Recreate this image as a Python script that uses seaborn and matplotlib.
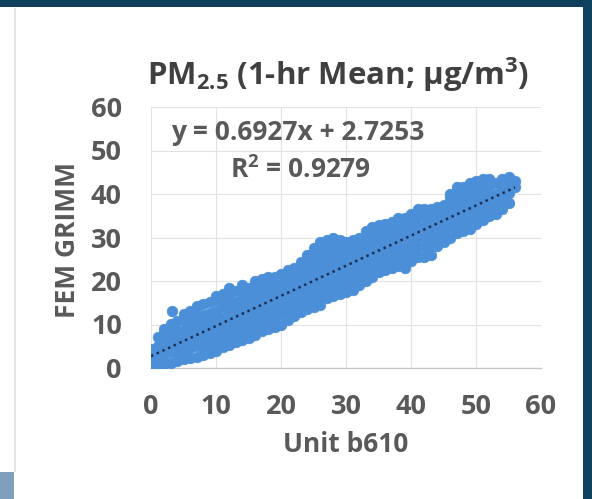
import matplotlib
matplotlib.use("Agg")
import matplotlib.pyplot as plt
import seaborn as sns
import pandas as pd
import numpy as np
from matplotlib.patches import Rectangle

# ---- data (column x value -> y values of points) ----
x_cols = list(range(0, 57))
y_cols = [
    [0.3, 2.2, 4.4],
    [0.5, 2.8, 5.0, 7.2],
    [1.0, 3.1, 5.4, 7.6, 9.0],
    [1.2, 3.6, 5.8, 8.0, 10.2],
    [1.6, 3.9, 6.2, 8.5, 10.8],
    [2.0, 4.3, 6.6, 8.8, 11.0, 12.4],
    [2.4, 4.6, 6.9, 9.2, 11.4, 13.0],
    [2.6, 5.0, 7.3, 9.6, 11.9, 14.2],
    [3.0, 5.3, 7.6, 9.9, 12.2, 14.6],
    [3.5, 5.8, 8.1, 10.4, 12.7, 15.2],
    [4.0, 6.3, 8.6, 10.9, 13.2, 15.6, 16.5],
    [4.8, 7.0, 9.3, 11.6, 14.0, 16.3, 17.0],
    [5.4, 7.7, 10.0, 12.3, 14.6, 16.9, 18.5],
    [6.0, 8.3, 10.6, 12.9, 15.2, 17.6],
    [6.5, 8.8, 11.1, 13.4, 15.7, 18.0, 19.0],
    [7.0, 9.3, 11.6, 13.9, 16.2, 18.4],
    [7.5, 9.8, 12.1, 14.4, 16.7, 19.0, 20.0],
    [8.4, 10.7, 13.0, 15.3, 17.6, 19.9, 20.5],
    [9.0, 11.3, 13.6, 15.9, 18.2, 20.5, 21.0],
    [9.5, 11.8, 14.1, 16.4, 18.7, 21.0],
    [10.0, 12.3, 14.6, 16.9, 19.2, 21.5],
    [11.0, 13.3, 15.6, 17.9, 20.2, 22.5],
    [12.0, 14.2, 16.5, 18.8, 21.1, 23.0],
    [12.9, 15.2, 17.5, 19.8, 22.1, 24.4],
    [13.5, 15.8, 18.1, 20.4, 22.7, 25.0, 26.0],
    [14.0, 16.3, 18.6, 20.9, 23.2, 25.5, 27.5],
    [14.5, 16.8, 19.1, 21.4, 23.7, 26.0, 28.0, 29.0],
    [16.0, 18.3, 20.6, 22.9, 25.2, 27.5, 29.5],
    [16.5, 18.8, 21.1, 23.4, 25.7, 28.0, 30.0],
    [17.0, 19.3, 21.6, 23.9, 26.2, 28.5, 29.5],
    [17.5, 19.8, 22.1, 24.4, 26.7, 29.0],
    [18.0, 20.3, 22.6, 24.9, 27.2, 29.5],
    [19.0, 21.3, 23.6, 25.9, 28.2, 30.0],
    [20.0, 22.3, 24.6, 26.9, 29.2, 31.5],
    [21.0, 23.3, 25.6, 27.9, 30.2, 32.5],
    [22.0, 24.3, 26.6, 28.9, 31.2, 32.8],
    [22.5, 24.8, 27.1, 29.4, 31.7, 33.0],
    [23.0, 25.3, 27.6, 29.9, 32.2, 33.5],
    [23.5, 25.8, 28.1, 30.4, 32.7, 34.5],
    [23.0, 25.3, 27.6, 29.9, 32.2, 34.5],
    [24.5, 26.8, 29.1, 31.4, 33.7, 35.5],
    [25.5, 27.8, 30.1, 32.4, 34.7, 36.5],
    [25.5, 27.8, 30.1, 32.4, 34.7, 36.5],
    [26.0, 28.3, 30.6, 32.9, 35.2, 36.5],
    [28.0, 30.3, 32.6, 34.9, 37.0],
    [29.0, 31.3, 33.6, 35.9, 37.5],
    [30.0, 32.3, 34.6, 36.9, 39.2, 40.0],
    [31.0, 33.3, 35.6, 37.9, 40.2, 41.5],
    [31.5, 33.8, 36.1, 38.4, 40.7, 41.5],
    [32.0, 34.3, 36.6, 38.9, 41.2, 42.5],
    [33.0, 35.3, 37.6, 39.9, 42.2, 43.0],
    [34.0, 36.3, 38.6, 40.9, 43.2, 43.5],
    [35.0, 37.3, 39.6, 41.9, 43.5],
    [35.5, 37.8, 40.1, 42.5],
    [36.5, 38.8, 41.1, 43.5],
    [38.0, 40.3, 42.6, 44.0],
    [41.5, 43.0],
]
outlier_x = [3.2]
outlier_y = [13.1]

slope = 0.6927
intercept = 2.7253
r_squared = 0.9279
x_ticks = [0, 10, 20, 30, 40, 50, 60]
y_ticks = [0, 10, 20, 30, 40, 50, 60]

title = "PM$_{2.5}$ (1-hr Mean; μg/m$^{3}$)"
x_label = "Unit b610"
y_label = "FEM GRIMM"

# ---- build table ----
xs, ys = [], []
for xv, col in zip(x_cols, y_cols):
    for yv in col:
        xs.append(xv)
        ys.append(yv)
xs += outlier_x
ys += outlier_y
df = pd.DataFrame({"unit": xs, "fem": ys})

sns.set_style("white")
FONT = "Open Sans"
plt.rcParams["font.family"] = [FONT, "DejaVu Sans"]
plt.rcParams["mathtext.fontset"] = "custom"
plt.rcParams["mathtext.rm"] = FONT
plt.rcParams["mathtext.default"] = "regular"

W, H = 592, 499
fig = plt.figure(figsize=(W / 100, H / 100), dpi=100)
fig.patch.set_facecolor("white")

def px_rect(x0, y0, w, h, color, z=0):
    fig.patches.append(Rectangle((x0 / W, 1 - (y0 + h) / H), w / W, h / H,
                                 transform=fig.transFigure, color=color,
                                 zorder=z, linewidth=0))

# slide background pieces
px_rect(0, 0, W, 7, "#0f3f5c")
px_rect(583, 0, 9, H, "#0f4260")
px_rect(0, 472, 14, 27, "#7f9fbd")
px_rect(14, 8, 1.5, 464, "#e4e4e4")

ax = fig.add_axes([151 / W, 1 - 368 / H, 390 / W, 261 / H])
ax.set_facecolor("none")

sns.scatterplot(data=df, x="unit", y="fem", ax=ax, s=60, color="#4a8fd7",
                edgecolor="#4a8fd7", linewidth=0.4, legend=False, zorder=3)

tx = np.array([df["unit"].min(), df["unit"].max()])
ax.plot(tx, slope * tx + intercept, color="#1b2f55", lw=1.8,
        ls=(0, (1, 1.5)), zorder=4)

ax.set_xlim(0, 60)
ax.set_ylim(0, 60)
ax.set_xticks(x_ticks)
ax.set_yticks(y_ticks)
ax.grid(True, color="#e2e2e2", lw=0.8, zorder=0)
ax.set_axisbelow(True)
for s in ["top", "right", "left"]:
    ax.spines[s].set_visible(False)
ax.spines["bottom"].set_color("#c6c6c6")
ax.spines["bottom"].set_linewidth(1.0)
ax.tick_params(axis="both", length=0, labelsize=19.5, labelcolor="#595959")
ax.tick_params(axis="x", pad=19)
ax.tick_params(axis="y", pad=21)
for lab in ax.get_xticklabels() + ax.get_yticklabels():
    lab.set_fontweight("bold")
ax.set_xlabel("")
ax.set_ylabel("")

fig.text(338 / W, 1 - 75 / H, title, ha="center", va="center",
         fontsize=22.5, color="#404040", fontweight="bold")
fig.text(298 / W, 1 - 133 / H, f"y = {slope}x + {intercept}", ha="center",
         va="center", fontsize=19, color="#595959", fontweight="bold")
fig.text(300 / W, 1 - 170 / H, f"R$^{{2}}$ = {r_squared}", ha="center",
         va="center", fontsize=19, color="#595959", fontweight="bold")
fig.text(346 / W, 1 - 445 / H, x_label, ha="center", va="center",
         fontsize=19, color="#595959", fontweight="bold")
fig.text(75 / W, 1 - 240 / H, y_label, ha="center", va="baseline",
         rotation=90, rotation_mode="anchor", fontsize=19,
         color="#595959", fontweight="bold")

fig.savefig("out.png", dpi=100, facecolor=fig.get_facecolor())
